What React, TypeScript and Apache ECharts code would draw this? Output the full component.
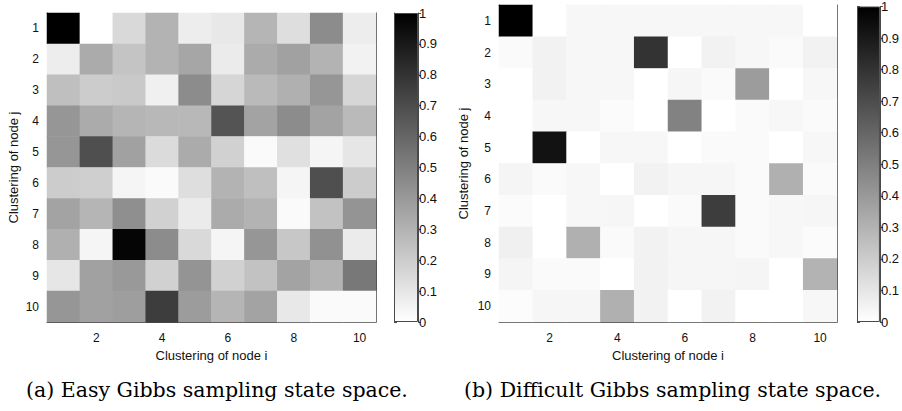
import React, { useEffect, useRef } from "react";
import * as echarts from "echarts";

const categories = ["1", "2", "3", "4", "5", "6", "7", "8", "9", "10"];

// rows = clustering of node j (1..10, top to bottom), columns = clustering of node i (1..10)
const easyValues: number[][] = [
  [1.0, 0.0, 0.15, 0.3, 0.07, 0.09, 0.29, 0.13, 0.45, 0.07],
  [0.07, 0.33, 0.23, 0.3, 0.35, 0.08, 0.33, 0.37, 0.3, 0.05],
  [0.25, 0.2, 0.21, 0.06, 0.45, 0.16, 0.27, 0.31, 0.41, 0.16],
  [0.41, 0.33, 0.29, 0.28, 0.28, 0.67, 0.36, 0.45, 0.36, 0.27],
  [0.41, 0.69, 0.37, 0.14, 0.33, 0.18, 0.02, 0.12, 0.04, 0.1],
  [0.2, 0.19, 0.04, 0.02, 0.13, 0.3, 0.25, 0.04, 0.69, 0.2],
  [0.36, 0.29, 0.44, 0.18, 0.08, 0.33, 0.3, 0.02, 0.24, 0.42],
  [0.31, 0.04, 0.98, 0.45, 0.15, 0.04, 0.41, 0.22, 0.43, 0.08],
  [0.1, 0.37, 0.4, 0.18, 0.42, 0.18, 0.24, 0.36, 0.3, 0.53],
  [0.41, 0.37, 0.38, 0.76, 0.39, 0.29, 0.36, 0.09, 0.02, 0.02],
];

const hardValues: number[][] = [
  [1.0, 0.0, 0.03, 0.03, 0.03, 0.03, 0.03, 0.03, 0.03, 0.0],
  [0.02, 0.05, 0.03, 0.03, 0.8, 0.0, 0.05, 0.03, 0.02, 0.05],
  [0.0, 0.05, 0.03, 0.03, 0.0, 0.035, 0.02, 0.39, 0.0, 0.03],
  [0.0, 0.03, 0.03, 0.015, 0.0, 0.49, 0.0, 0.02, 0.03, 0.02],
  [0.0, 0.93, 0.0, 0.03, 0.03, 0.0, 0.02, 0.02, 0.0, 0.03],
  [0.04, 0.02, 0.03, 0.0, 0.05, 0.035, 0.035, 0.02, 0.31, 0.02],
  [0.015, 0.0, 0.03, 0.035, 0.0, 0.02, 0.76, 0.02, 0.03, 0.035],
  [0.06, 0.0, 0.31, 0.02, 0.05, 0.035, 0.035, 0.02, 0.03, 0.015],
  [0.04, 0.02, 0.02, 0.0, 0.05, 0.035, 0.035, 0.04, 0.0, 0.3],
  [0.01, 0.035, 0.035, 0.31, 0.05, 0.0, 0.05, 0.0, 0.0, 0.03],
];

const colorbarMin = 0;
const colorbarMax = 1;
const colorbarStep = 0.1;

const captionA = "(a) Easy Gibbs sampling state space.";
const captionB = "(b) Difficult Gibbs sampling state space.";
const xName = "Clustering of node i";
const yName = "Clustering of node j";

const FONT = '"Liberation Sans", Arial, sans-serif';
const CAPTION_FONT = '20.5px "DejaVu Serif", serif';
const FRAME = "#4a4a4a";
const TEXT = "#111";

function toCells(m: number[][]) {
  const out: number[][] = [];
  m.forEach((row, j) => row.forEach((v, i) => out.push([i, j, v])));
  return out;
}

const evenOnly = (index: number) => index % 2 === 1;

export default function App() {
  const ref = useRef<HTMLDivElement>(null);
  useEffect(() => {
    document.body.style.margin = "0";
    if (!ref.current) return;
    const chart = echarts.init(ref.current, undefined, { renderer: "svg" });

    const grids = [
      { left: 47, top: 13, width: 329, height: 309 },
      { left: 499, top: 5, width: 338, height: 317 },
      { left: 394, top: 13, width: 24, height: 309 },
      { left: 857, top: 5, width: 25, height: 317 },
    ];
    const yGaps = [27, 29];

    const xAxes: any[] = [];
    const yAxes: any[] = [];
    [0, 1].forEach((g) => {
      const common = {
        type: "category",
        data: categories,
        gridIndex: g,
        axisLine: { show: true, onZero: false, lineStyle: { color: FRAME, width: 1 } },
        splitLine: { show: false },
      };
      xAxes.push({
        ...common,
        position: "bottom",
        name: xName,
        nameLocation: "middle",
        nameGap: 23,
        nameTextStyle: { fontFamily: FONT, fontSize: 13, color: TEXT },
        axisTick: { show: true, inside: true, length: 4, alignWithLabel: true, interval: evenOnly, lineStyle: { color: FRAME } },
        axisLabel: { interval: evenOnly, margin: 10, fontFamily: FONT, fontSize: 12, color: TEXT },
      });
      xAxes.push({
        ...common,
        position: "top",
        axisTick: { show: true, inside: true, length: 4, alignWithLabel: true, interval: evenOnly, lineStyle: { color: FRAME } },
        axisLabel: { show: false },
      });
      yAxes.push({
        ...common,
        inverse: true,
        position: "left",
        name: yName,
        nameLocation: "middle",
        nameGap: yGaps[g],
        nameTextStyle: { fontFamily: FONT, fontSize: 13, color: TEXT },
        axisTick: { show: true, inside: true, length: 4, alignWithLabel: true, interval: 0, lineStyle: { color: FRAME } },
        axisLabel: { interval: 0, margin: 8, fontFamily: FONT, fontSize: 12, color: TEXT },
      });
      yAxes.push({
        ...common,
        inverse: true,
        position: "right",
        axisTick: { show: true, inside: true, length: 4, alignWithLabel: true, interval: 0, lineStyle: { color: FRAME } },
        axisLabel: { show: false },
      });
    });
    // colorbar axes
    [2, 3].forEach((g) => {
      xAxes.push({
        type: "category",
        data: [""],
        gridIndex: g,
        show: false,
      });
      yAxes.push({
        type: "value",
        gridIndex: g,
        min: colorbarMin,
        max: colorbarMax,
        interval: colorbarStep,
        position: "right",
        splitLine: { show: false },
        axisLine: { show: true, lineStyle: { color: FRAME } },
        axisTick: { show: true, inside: false, length: 3, lineStyle: { color: FRAME } },
        axisLabel: {
          margin: 1,
          fontFamily: FONT,
          fontSize: 13,
          color: TEXT,
          formatter: (v: number) => String(Math.round(v * 10) / 10),
        },
      });
      yAxes.push({
        type: "value",
        gridIndex: g,
        min: colorbarMin,
        max: colorbarMax,
        interval: colorbarStep,
        position: "left",
        splitLine: { show: false },
        axisLine: { show: true, lineStyle: { color: FRAME } },
        axisTick: { show: true, inside: true, length: 3, lineStyle: { color: FRAME } },
        axisLabel: { show: false },
      });
    });

    const gradient = new echarts.graphic.LinearGradient(0, 0, 0, 1, [
      { offset: 0, color: "#000000" },
      { offset: 1, color: "#ffffff" },
    ]);

    const option: any = {
      animation: false,
      backgroundColor: "#ffffff",
      grid: grids,
      xAxis: xAxes,
      yAxis: yAxes,
      visualMap: [
        { type: "continuous", show: false, min: colorbarMin, max: colorbarMax, seriesIndex: 0, inRange: { color: ["#ffffff", "#000000"] } },
        { type: "continuous", show: false, min: colorbarMin, max: colorbarMax, seriesIndex: 1, inRange: { color: ["#ffffff", "#000000"] } },
      ],
      series: [
        { type: "heatmap", xAxisIndex: 0, yAxisIndex: 0, data: toCells(easyValues), emphasis: { disabled: true } },
        { type: "heatmap", xAxisIndex: 2, yAxisIndex: 2, data: toCells(hardValues), emphasis: { disabled: true } },
        {
          type: "bar",
          xAxisIndex: 4,
          yAxisIndex: 4,
          barWidth: "100%",
          data: [colorbarMax],
          itemStyle: { color: gradient, borderColor: FRAME, borderWidth: 1 },
          silent: true,
        },
        {
          type: "bar",
          xAxisIndex: 5,
          yAxisIndex: 6,
          barWidth: "100%",
          data: [colorbarMax],
          itemStyle: { color: gradient, borderColor: FRAME, borderWidth: 1 },
          silent: true,
        },
      ],
      graphic: [
        { type: "text", left: 26, top: 379, style: { text: captionA, font: CAPTION_FONT, fill: "#000" } },
        { type: "text", left: 464, top: 379, style: { text: captionB, font: CAPTION_FONT, fill: "#000" } },
      ],
    };
    chart.setOption(option);
    return () => chart.dispose();
  }, []);
  return <div ref={ref} style={{ width: 902, height: 411 }} />;
}
